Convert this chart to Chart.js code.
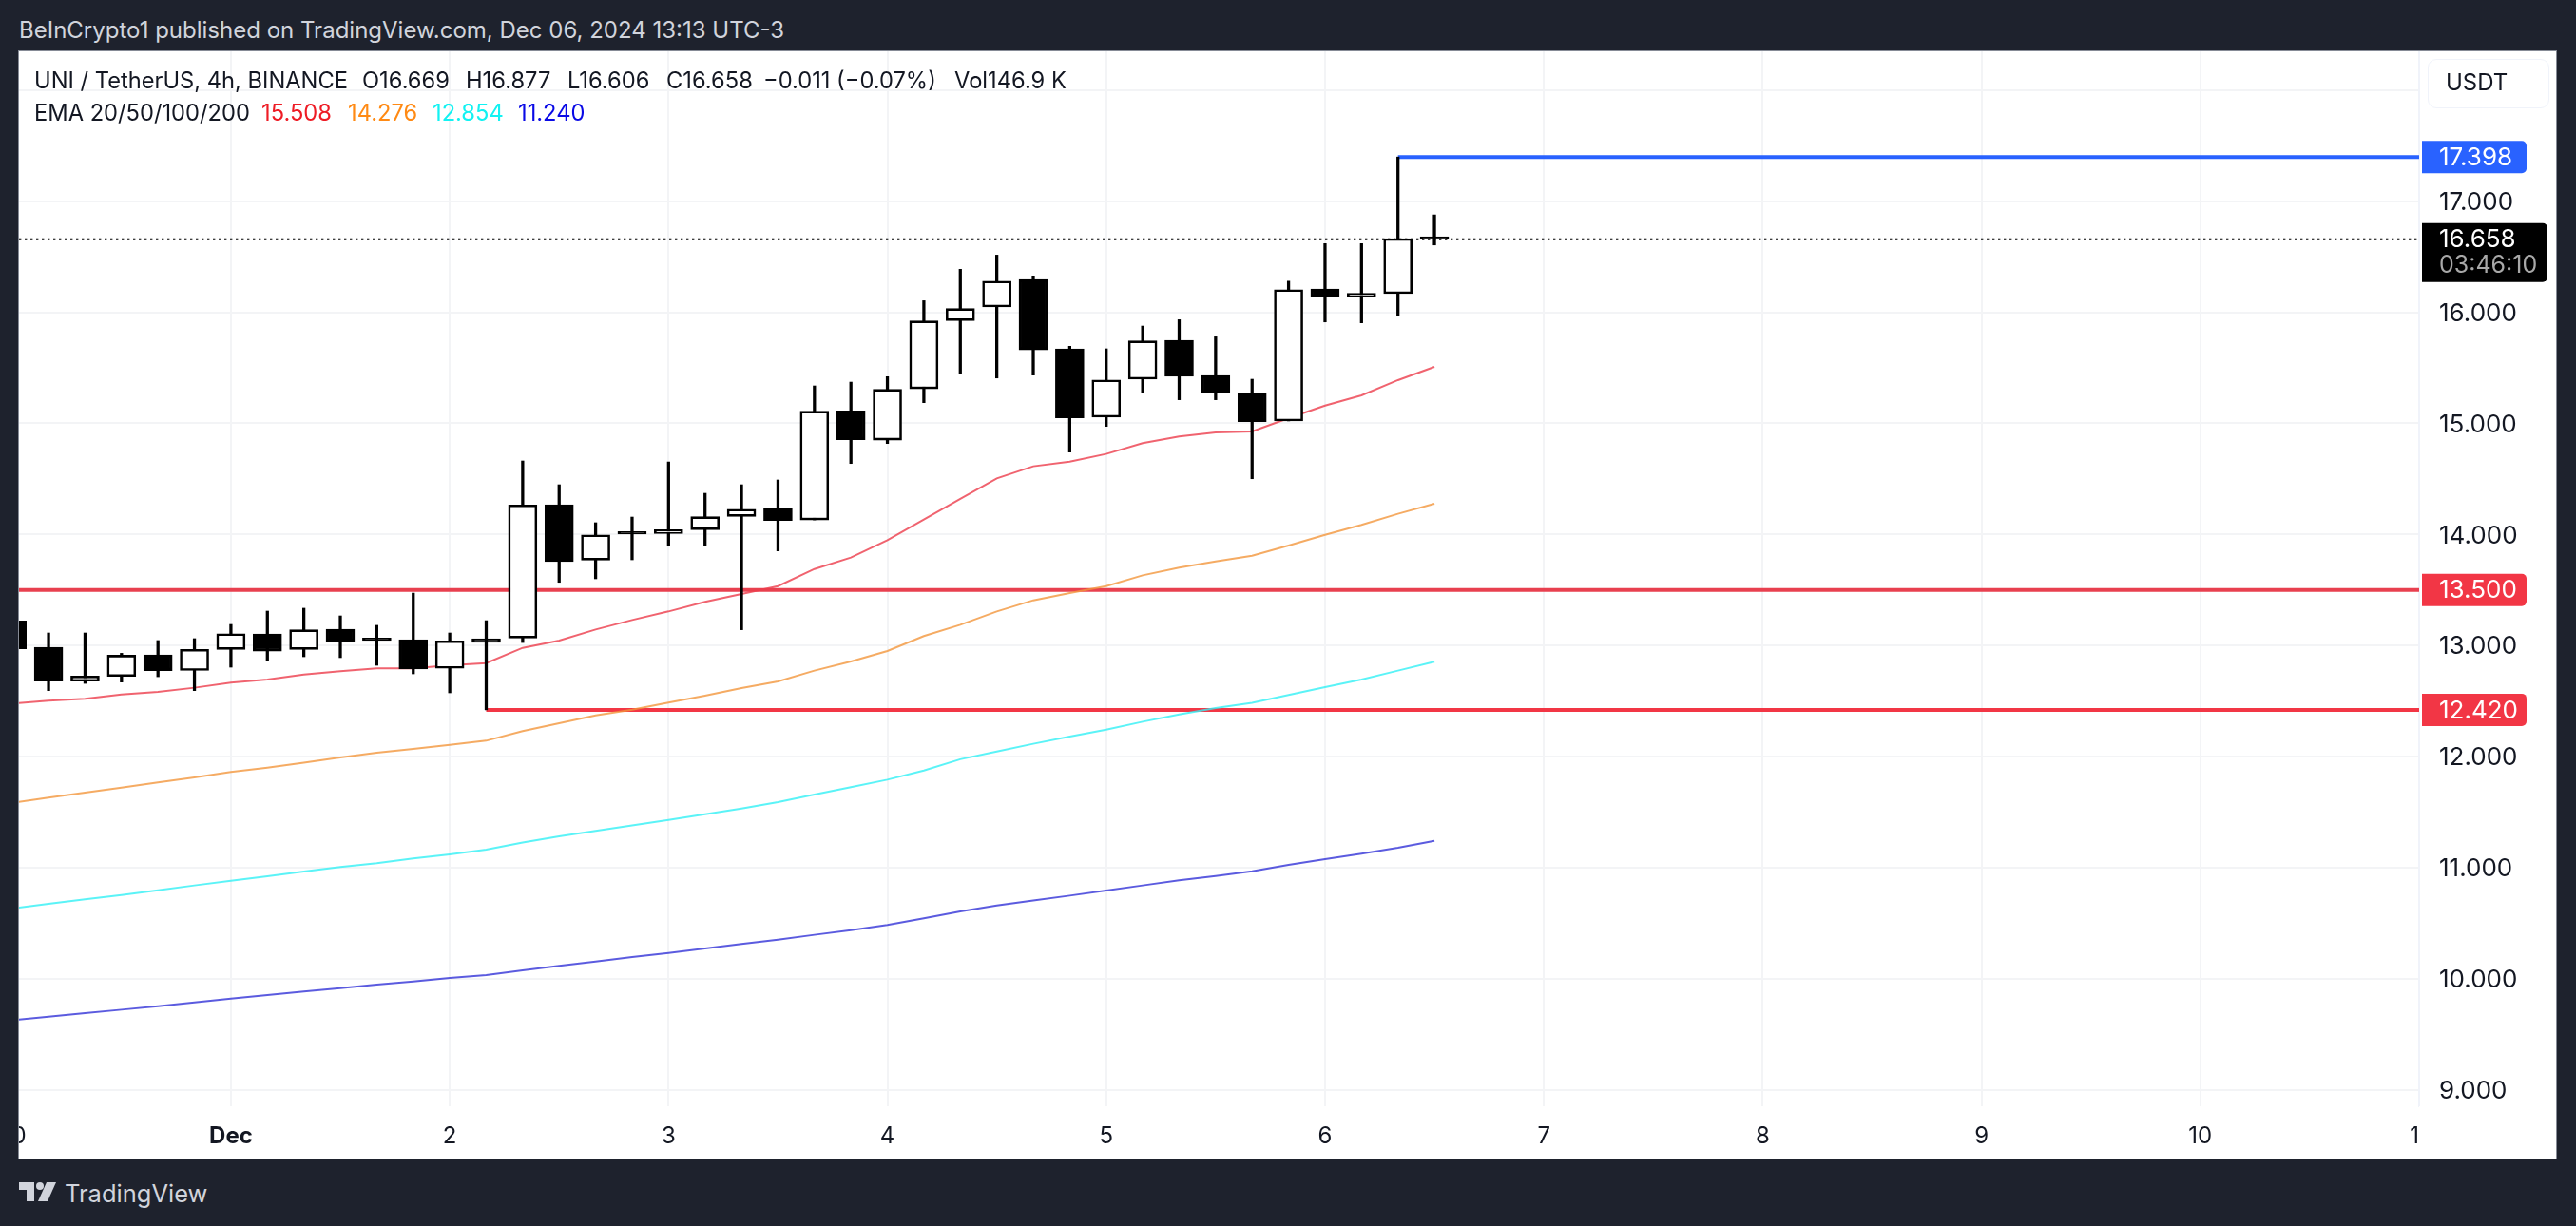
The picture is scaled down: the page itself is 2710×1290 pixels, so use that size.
<!DOCTYPE html>
<html>
<head>
<meta charset="utf-8">
<script src="https://cdn.jsdelivr.net/npm/chart.js@4"></script>
<style>
html,body{margin:0;padding:0;background:#1e222d;width:2710px;height:1290px;overflow:hidden;font-family:Inter,sans-serif}
canvas{position:absolute;left:0;top:0;background:#fff}
.mask{position:absolute}
.t{position:absolute;white-space:pre;line-height:1;transform:translateY(-50%)}
.leg{font-size:23.7px;color:#131722}
</style>
</head>
<body>
<canvas id="c" width="2710" height="1290"></canvas>
<div class="mask" style="left:0;top:0;width:2710px;height:54px;background:#1e222d"></div>
<div class="mask" style="left:0;top:0;width:20px;height:1290px;background:#1e222d"></div>
<div class="mask" style="left:2689px;top:0;width:21px;height:1290px;background:#1e222d"></div>
<div class="mask" style="left:0;top:1219px;width:2710px;height:71px;background:#1e222d"></div>
<div class="mask" style="left:2545px;top:1164px;width:144px;height:55px;background:#fff"></div>
<div class="mask" style="left:19px;top:53px;width:2669px;height:1165px;border:1.5px solid #868b96;box-sizing:content-box"></div>

<div class="t" style="left:20px;top:32px;font-size:24px;color:#d1d4dc">BeInCrypto1 published on TradingView.com, Dec 06, 2024 13:13 UTC-3</div>

<div class="t leg" style="left:36px;top:85px">UNI / TetherUS, 4h, BINANCE</div>
<div class="t leg" style="left:381px;top:85px">O16.669</div>
<div class="t leg" style="left:490px;top:85px">H16.877</div>
<div class="t leg" style="left:597px;top:85px">L16.606</div>
<div class="t leg" style="left:701px;top:85px">C16.658</div>
<div class="t leg" style="left:803px;top:85px">−0.011 (−0.07%)</div>
<div class="t leg" style="left:1004px;top:85px">Vol146.9 K</div>
<div class="t leg" style="left:36px;top:119px">EMA 20/50/100/200</div>
<div class="t leg" style="left:275px;top:119px;color:#ee1c25">15.508</div>
<div class="t leg" style="left:366px;top:119px;color:#ff8a14">14.276</div>
<div class="t leg" style="left:455px;top:119px;color:#12f2f2">12.854</div>
<div class="t leg" style="left:545px;top:119px;color:#0a0ae6">11.240</div>

<div class="mask" style="left:2554px;top:62px;width:128px;height:52px;border:1.5px solid #f0f3fa;border-radius:9px;background:#fff;box-sizing:border-box"></div>
<div class="t" style="left:2573px;top:87px;font-size:24px;color:#131722">USDT</div>

<svg class="mask" style="left:20px;top:1244px" width="40" height="21" viewBox="0 0 40 21">
  <path d="M0 0H16V20H8V8H0Z" fill="#d1d4dc"/>
  <circle cx="22" cy="4" r="4" fill="#d1d4dc"/>
  <path d="M29 0H39L30 20H20Z" fill="#d1d4dc"/>
</svg>
<div class="t" style="left:68px;top:1256px;font-size:25.5px;color:#d1d4dc">TradingView</div>

<script>
// 4-hour bars counted from Dec 1 00:00
const barIndex = [-6,-5,-4,-3,-2,-1,0,1,2,3,4,5,6,7,8,9,10,11,12,13,14,15,16,17,18,19,20,21,22,23,24,25,26,27,28,29,30,31,32,33];
const opens  = [13.22,12.984,12.678,12.721,12.915,12.775,12.964,13.103,12.964,13.146,13.06,13.052,12.793,13.061,13.066,14.267,13.768,14.02,14.008,14.042,14.162,14.23,14.13,15.112,14.849,15.311,15.925,16.048,16.296,15.671,15.055,15.397,15.748,15.431,15.269,15.021,16.21,16.139,16.167,16.669];
const highs  = [13.26,13.112,13.112,12.929,13.044,13.061,13.189,13.309,13.335,13.266,13.181,13.471,13.112,13.223,14.661,14.447,14.105,14.156,14.652,14.37,14.447,14.49,15.337,15.371,15.42,16.104,16.387,16.515,16.327,15.694,15.671,15.876,15.933,15.779,15.397,16.279,16.618,16.618,17.398,16.877];
const lows   = [12.93,12.593,12.658,12.67,12.718,12.593,12.804,12.864,12.898,12.89,12.821,12.744,12.573,12.42,13.026,13.568,13.6,13.771,13.902,13.902,13.141,13.851,14.13,14.638,14.818,15.186,15.451,15.408,15.434,14.741,14.972,15.272,15.212,15.212,14.501,15.021,15.913,15.905,15.973,16.606];
const closes = [12.97,12.678,12.724,12.912,12.773,12.964,13.106,12.949,13.141,13.035,13.044,12.787,13.041,13.027,14.265,13.754,13.996,14.002,14.042,14.159,14.227,14.125,15.109,14.852,15.306,15.922,16.033,16.281,15.662,15.049,15.391,15.742,15.423,15.272,15.015,16.204,16.136,16.17,16.664,16.658];

const ema20  = [12.476,12.502,12.519,12.559,12.581,12.619,12.664,12.693,12.738,12.767,12.793,12.793,12.821,12.841,12.978,13.044,13.143,13.229,13.306,13.392,13.463,13.534,13.688,13.791,13.948,14.133,14.319,14.504,14.613,14.655,14.724,14.821,14.881,14.918,14.926,15.046,15.16,15.252,15.389,15.508];
const ema50  = [11.583,11.629,11.674,11.72,11.766,11.811,11.86,11.9,11.943,11.991,12.034,12.068,12.105,12.142,12.228,12.299,12.37,12.422,12.485,12.547,12.616,12.676,12.773,12.855,12.95,13.084,13.186,13.306,13.406,13.471,13.534,13.631,13.7,13.757,13.808,13.899,13.996,14.085,14.185,14.276];
const ema100 = [10.63,10.673,10.713,10.753,10.796,10.839,10.881,10.921,10.964,11.004,11.038,11.081,11.118,11.161,11.225,11.281,11.329,11.38,11.429,11.48,11.532,11.589,11.657,11.723,11.791,11.874,11.975,12.045,12.114,12.179,12.242,12.313,12.379,12.436,12.484,12.553,12.624,12.693,12.773,12.854];
const ema200 = [9.626,9.657,9.689,9.72,9.751,9.786,9.82,9.851,9.883,9.914,9.945,9.974,10.005,10.031,10.074,10.114,10.154,10.194,10.231,10.271,10.311,10.351,10.394,10.436,10.482,10.542,10.605,10.659,10.704,10.747,10.793,10.839,10.884,10.924,10.967,11.024,11.075,11.124,11.178,11.24];

const lastPrice = 16.658;
const countdown = "03:46:10";
const resistance = 17.398;
const resistanceFrom = 32;
const supportA = 13.5;
const supportB = 12.42;
const supportBFrom = 7;

const xTickValues = [-6,0,6,12,18,24,30,36,42,48,54,60];
const xTickLabels = ["30","Dec","2","3","4","5","6","7","8","9","10","11"];
const yTickValues = [9,10,11,12,13,14,15,16,17,18];

const X_MIN = -5.81, X_MAX = 60, Y_MIN = 8.8503, Y_MAX = 18.3496;
const FONT = "Inter, sans-serif";

const pts = arr => arr.map((v,i)=>({x:barIndex[i],y:v}));
const hline = (v,from) => [{x:from,y:v},{x:X_MAX,y:v}];
const isUp = i => closes[i] >= opens[i];

const emaLine = (label,data,color) => ({type:'line',label,data:pts(data),borderColor:color,borderWidth:2,pointRadius:0,tension:0,order:10});
const levelLine = (label,v,from,color) => ({type:'line',label,data:hline(v,from),borderColor:color,borderWidth:4,pointRadius:0,tension:0,order:11});

const badges = {
  id:'badges',
  afterDraw(chart){
    const ctx = chart.ctx, y = chart.scales.y;
    const tag = (v,bg,right,h) => {
      const py = y.getPixelForValue(v);
      ctx.fillStyle = bg;
      ctx.beginPath();
      ctx.roundRect(2548,py-17,right-2548,h,[0,5,5,0]);
      ctx.fill();
      ctx.fillStyle = '#fff';
      ctx.font = '26px '+FONT;
      ctx.textAlign = 'left';
      ctx.textBaseline = 'middle';
      ctx.fillText(v.toFixed(3),2566,py+1);
    };
    tag(resistance,'#2962ff',2658,34);
    tag(supportA,'#f23645',2658,34);
    tag(supportB,'#f23645',2658,34);
    tag(lastPrice,'#000000',2680,62);
    ctx.fillStyle = '#a8a8a8';
    ctx.font = '25px '+FONT;
    ctx.textAlign = 'left';
    ctx.textBaseline = 'middle';
    ctx.fillText(countdown,2566,y.getPixelForValue(lastPrice)+28);
  }
};

new Chart(document.getElementById('c'),{
  type:'bar',
  data:{datasets:[
    emaLine('EMA 20',ema20,'rgba(236,60,75,0.8)'),
    emaLine('EMA 50',ema50,'rgba(243,150,60,0.8)'),
    emaLine('EMA 100',ema100,'rgba(50,240,245,0.8)'),
    emaLine('EMA 200',ema200,'rgba(50,50,215,0.8)'),
    levelLine('Resistance',resistance,resistanceFrom,'#2962ff'),
    levelLine('Support 1',supportA,X_MIN,'#e8404f'),
    levelLine('Support 2',supportB,supportBFrom,'#f23645'),
    {type:'bar',label:'Wick',data:barIndex.map((x,i)=>({x,y:[lows[i],highs[i]]})),
     backgroundColor:'#000',barThickness:2.6,grouped:false,order:3},
    {type:'bar',label:'Body',data:barIndex.map((x,i)=>({x,y:[Math.min(opens[i],closes[i]),Math.max(opens[i],closes[i])]})),
     backgroundColor:barIndex.map((x,i)=>isUp(i)?'#ffffff':'#000000'),
     borderColor:'#000',borderWidth:2.6,borderSkipped:false,barThickness:30,minBarLength:2.6,grouped:false,order:2},
    {type:'line',label:'Last price',data:hline(lastPrice,X_MIN),borderColor:'#000',borderWidth:2,borderDash:[2.4,3.6],pointRadius:0,order:1}
  ]},
  plugins:[badges],
  options:{
    responsive:false,
    devicePixelRatio:1,
    animation:false,
    layout:{padding:{left:20,top:54,right:21,bottom:71}},
    plugins:{legend:{display:false},tooltip:{enabled:false},title:{display:false}},
    scales:{
      x:{
        type:'linear',min:X_MIN,max:X_MAX,offset:false,
        afterBuildTicks:s=>{s.ticks=xTickValues.map(value=>({value}));},
        afterFit:s=>{s.height=55;s.paddingLeft=0;s.paddingRight=0;},
        grid:{color:'#f3f4f6',lineWidth:2,drawTicks:false,offset:false},
        border:{display:false},
        ticks:{
          autoSkip:false,maxRotation:0,padding:17,color:'#131722',
          font:c=>({family:FONT,size:24,weight:c.tick&&c.tick.value===0?'700':'400'}),
          callback:v=>xTickLabels[xTickValues.indexOf(v)]
        }
      },
      y:{
        position:'right',min:Y_MIN,max:Y_MAX,
        afterBuildTicks:s=>{s.ticks=yTickValues.map(value=>({value}));},
        afterFit:s=>{s.width=144;s.paddingTop=0;s.paddingBottom=0;},
        grid:{color:'#f3f4f6',lineWidth:2,drawTicks:false},
        border:{display:true,color:'#f0f3fa',width:2},
        ticks:{
          autoSkip:false,padding:21,labelOffset:1.5,color:'#131722',crossAlign:'near',
          font:{family:FONT,size:26},
          callback:v=>v===18?'':Number(v).toFixed(3)
        }
      }
    }
  }
});
</script>
</body>
</html>
